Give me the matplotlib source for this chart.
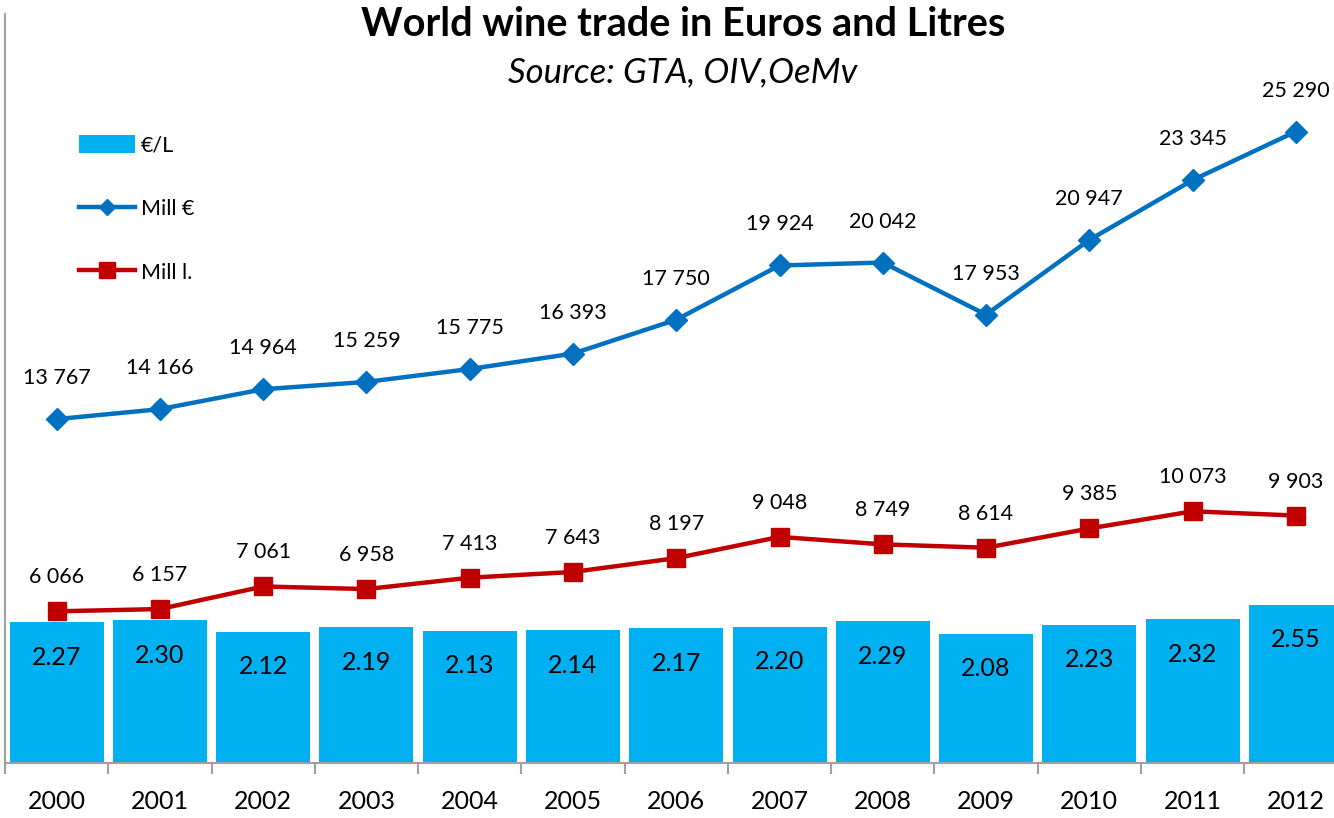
import numpy as np
import matplotlib.pyplot as plt
from matplotlib.patches import Patch
from matplotlib.lines import Line2D

plt.rcParams['font.family'] = ['Lato', 'DejaVu Sans']

years = ["2000", "2001", "2002", "2003", "2004", "2005", "2006",
         "2007", "2008", "2009", "2010", "2011", "2012"]
eur_per_l = [2.27, 2.30, 2.12, 2.19, 2.13, 2.14, 2.17, 2.20, 2.29, 2.08, 2.23, 2.32, 2.55]
mill_eur = [13767, 14166, 14964, 15259, 15775, 16393, 17750, 19924, 20042, 17953, 20947, 23345, 25290]
mill_l = [6066, 6157, 7061, 6958, 7413, 7643, 8197, 9048, 8749, 8614, 9385, 10073, 9903]

bar_color = "#00B0F0"
blue = "#0070C0"
red = "#C00000"
axis_gray = "#A0A0A0"


def fmt(v):
    return f"{v:,}".replace(",", " ")


W, H = 1334, 818
fig = plt.figure(figsize=(W / 100, H / 100), dpi=100)
ax = fig.add_axes([5 / W, (H - 762.7) / H, 1342.5 / W, 748.7 / H])
x = np.arange(len(years))

# bars (€/L) on the first axis
ax.bar(x, eur_per_l, width=0.91, color=bar_color, zorder=2)
ax.set_ylim(0, 12.1)
ax.set_xlim(-0.5, len(years) - 0.5)
for xi, v in zip(x, eur_per_l):
    ax.annotate(f"{v:.2f}", (xi, v), xytext=(0, -35), textcoords="offset pixels",
                ha="center", va="center", fontsize=18)

# lines on the twin axis
ax2 = ax.twinx()
ax2.set_ylim(0, 30000)
ax2.plot(x, mill_eur, color=blue, lw=3.2, marker="D", markersize=11, zorder=3)
ax2.plot(x, mill_l, color=red, lw=3.2, marker="s", markersize=13, zorder=3)
for xi, v in zip(x, mill_eur):
    ax2.annotate(fmt(v), (xi, v), xytext=(0, 41), textcoords="offset pixels",
                 ha="center", va="center", fontsize=15.5)
for xi, v in zip(x, mill_l):
    ax2.annotate(fmt(v), (xi, v), xytext=(0, 34), textcoords="offset pixels",
                 ha="center", va="center", fontsize=15.5)

# axes styling
for a in (ax, ax2):
    a.spines["top"].set_visible(False)
    a.spines["right"].set_visible(False)
    a.set_yticks([])
ax2.spines["left"].set_visible(False)
ax2.spines["bottom"].set_visible(False)
ax.spines["left"].set_color(axis_gray)
ax.spines["bottom"].set_color(axis_gray)
ax.spines["left"].set_linewidth(1.5)
ax.spines["bottom"].set_linewidth(1.5)

ax.set_xticks(x)
ax.set_xticklabels(years, fontsize=18)
ax.tick_params(axis="x", which="major", length=0, pad=20)
ax.set_xticks(np.arange(-0.5, len(years)), minor=True)
ax.tick_params(axis="x", which="minor", length=8, width=1.5, color=axis_gray)

# title
fig.text(683 / W, 1 - 25 / H, "World wine trade in Euros and Litres",
         ha="center", va="center", fontsize=28.5, fontweight="bold")
fig.text(683 / W, 1 - 72 / H, "Source: GTA, OIV,OeMv",
         ha="center", va="center", fontsize=25, style="italic")

# legend
handles = [
    Patch(facecolor=bar_color, label="€/L"),
    Line2D([], [], color=blue, lw=3.2, marker="D", markersize=8, label="Mill €"),
    Line2D([], [], color=red, lw=3.2, marker="s", markersize=12, label="Mill l."),
]
fig.legend(handles=handles, loc="upper left", bbox_to_anchor=(60 / W, 1 - 116 / H),
           frameon=False, fontsize=15.5, handlelength=2.6, handleheight=0.9,
           handletextpad=0.25, labelspacing=2.0)

fig.savefig("out.png", dpi=100)
